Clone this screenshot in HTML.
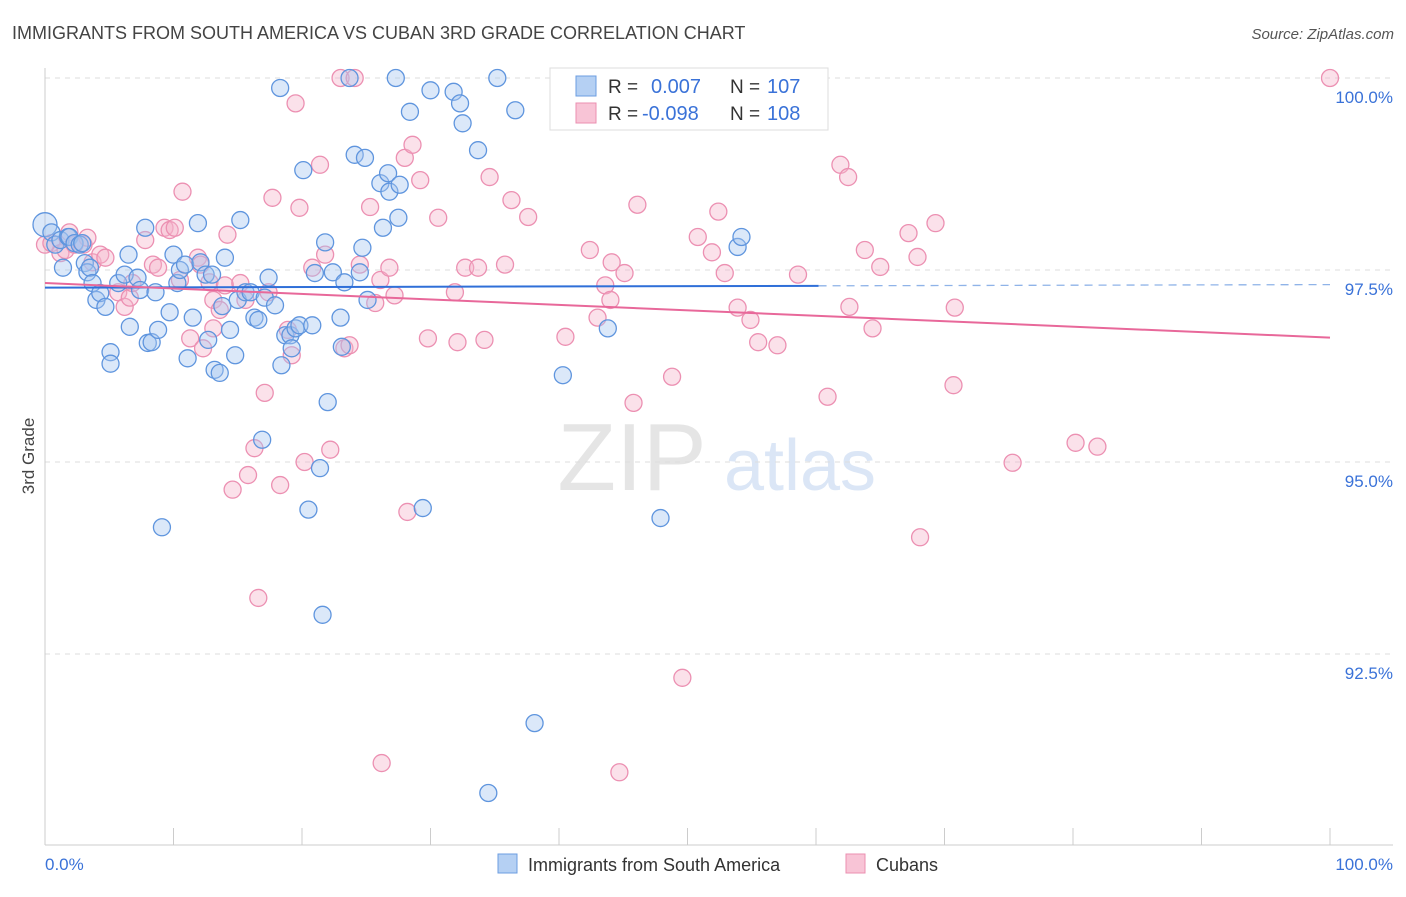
<!DOCTYPE html>
<html><head><meta charset="utf-8"><style>
body{margin:0;background:#fff;font-family:"Liberation Sans",sans-serif;}
svg text{font-family:"Liberation Sans",sans-serif;}
</style></head><body>
<svg id="chart" width="1406" height="892" xmlns="http://www.w3.org/2000/svg">
<text x="12" y="39" font-size="18" fill="#444">IMMIGRANTS FROM SOUTH AMERICA VS CUBAN 3RD GRADE CORRELATION CHART</text>
<text x="1394" y="39" font-size="15" fill="#555" font-style="italic" text-anchor="end">Source: ZipAtlas.com</text>
<text transform="translate(34,456) rotate(-90)" font-size="17" fill="#444" text-anchor="middle">3rd Grade</text>
<g opacity="0.5">
<text x="632" y="490" font-size="96" fill="#ccc" font-family="Liberation Serif" text-anchor="middle">ZIP</text>
<text x="800" y="490" font-size="72" fill="#b9cfee" text-anchor="middle">atlas</text>
</g>
<g id="grid"></g><g id="axes"></g><g id="pts"></g><g id="trend"></g>
<g>
<rect x="550" y="68" width="278" height="62" fill="#fff" stroke="#ddd"/>
<rect x="576" y="76" width="20" height="20" fill="#b5d0f3" stroke="#6c9ee0"/>
<text x="608" y="93" font-size="19" fill="#333">R =</text><text x="651" y="93" font-size="20" fill="#3a72d8">0.007</text>
<text x="730" y="93" font-size="19" fill="#333">N =</text><text x="767" y="93" font-size="20" fill="#3a72d8">107</text>
<rect x="576" y="103" width="20" height="20" fill="#f8c4d6" stroke="#eb8fb0"/>
<text x="608" y="120" font-size="19" fill="#333">R =</text><text x="642" y="120" font-size="20" fill="#3a72d8">-0.098</text>
<text x="730" y="120" font-size="19" fill="#333">N =</text><text x="767" y="120" font-size="20" fill="#3a72d8">108</text>
</g>
<g>
<rect x="498" y="854" width="19" height="19" fill="#b5d0f3" stroke="#6c9ee0"/>
<text x="528" y="871" font-size="18" fill="#333">Immigrants from South America</text>
<rect x="846" y="854" width="19" height="19" fill="#f8c4d6" stroke="#eb8fb0"/>
<text x="876" y="871" font-size="18" fill="#333">Cubans</text>
</g>
</svg>
<script>
const yTicks=[100,97.5,95,92.5];
const yTickLabels=["100.0%","97.5%","95.0%","92.5%"];
const xTickCount=10;
const blueX=[0,0.5,0.8,1.2,1.4,1.8,1.9,2.3,2.7,2.9,3.1,3.3,3.5,3.7,4.0,4.3,4.7,5.1,5.1,5.7,6.2,6.5,6.6,7.2,7.4,7.8,8.0,8.3,8.6,8.8,9.1,9.7,10.0,10.3,10.5,10.9,11.1,11.5,11.9,12.1,12.5,12.7,13.0,13.2,13.6,13.8,14.0,14.4,14.8,15.0,15.2,15.6,16.0,16.3,16.6,16.9,17.1,17.4,17.9,18.3,18.4,18.7,19.1,19.2,19.5,19.8,20.1,20.5,20.8,21.0,21.4,21.6,21.8,22.0,22.4,23.0,23.1,23.3,23.7,24.1,24.5,24.7,24.9,25.1,26.1,26.3,26.7,26.8,27.3,27.6,27.5,28.4,29.4,30.0,31.8,32.3,32.5,33.7,34.5,35.2,36.6,38.1,40.3,43.8,47.9,53.9,54.2];
const blueY=[98.09,97.99,97.83,97.89,97.53,97.93,97.93,97.85,97.83,97.85,97.59,97.47,97.53,97.33,97.11,97.20,97.02,96.43,96.28,97.33,97.44,97.70,96.76,97.40,97.24,98.05,96.55,96.56,97.21,96.72,94.15,96.95,97.70,97.33,97.50,97.57,96.35,96.88,98.11,97.60,97.44,96.59,97.44,96.20,96.16,97.03,97.66,96.72,96.39,97.11,98.15,97.21,97.21,96.88,96.85,95.29,97.14,97.40,97.04,99.87,96.26,96.65,96.65,96.48,96.74,96.78,98.80,94.38,96.78,97.46,94.92,93.01,97.86,95.78,97.47,96.88,96.50,97.34,100.0,99.00,97.47,97.79,98.96,97.11,98.63,98.05,98.76,98.52,100.0,98.61,98.18,99.56,94.40,99.84,99.82,99.67,99.41,99.06,90.69,100.0,99.58,91.60,96.13,96.74,94.27,97.80,97.93];
const pinkX=[0,0.5,1.2,1.6,1.9,2.3,3.0,3.3,3.7,4.3,4.7,5.7,6.2,6.6,6.8,7.8,8.4,8.8,9.3,9.7,10.1,10.5,10.7,11.3,11.9,12.1,12.3,12.8,13.1,13.1,13.6,14.0,14.2,14.6,15.2,15.6,15.8,16.3,16.6,17.1,17.4,17.7,18.3,18.9,19.2,19.5,19.8,20.2,20.8,21.4,21.8,22.2,23.0,23.3,23.7,24.1,24.5,25.3,25.7,26.1,26.2,26.8,27.2,28.0,28.2,28.6,29.2,29.8,30.6,31.9,32.1,32.7,33.7,34.2,34.6,35.8,36.3,37.6,40.5,42.4,43.0,43.6,44.0,44.1,44.7,45.1,45.8,46.1,48.8,49.6,50.8,51.9,52.4,52.9,53.9,54.9,55.5,57.0,58.6,60.9,61.9,62.5,62.6,63.8,64.4,65.0,67.2,67.9,68.1,69.3,70.7,70.8,75.3,80.2,81.9,100];
const pinkY=[97.83,97.85,97.72,97.76,97.99,97.83,97.83,97.92,97.60,97.70,97.66,97.21,97.02,97.14,97.33,97.89,97.57,97.53,98.05,98.02,98.05,97.37,98.52,96.61,97.66,97.57,96.48,97.34,97.11,96.74,96.98,97.30,97.96,94.64,97.33,97.11,94.83,95.18,93.23,95.90,97.21,98.44,94.70,96.72,96.39,99.67,98.31,95.00,97.53,98.87,97.70,95.16,100.0,96.48,96.52,100.0,97.57,98.32,97.07,97.37,91.08,97.53,97.17,98.96,94.35,99.13,98.67,96.61,98.18,97.21,96.56,97.53,97.53,96.59,98.71,97.57,98.41,98.19,96.63,97.76,96.88,97.30,97.11,97.60,90.96,97.46,95.77,98.35,96.11,92.19,97.93,97.73,98.26,97.46,97.01,96.85,96.56,96.52,97.44,95.85,98.87,98.71,97.02,97.76,96.74,97.54,97.98,97.67,94.02,98.11,96.00,97.01,94.99,95.25,95.20,100.0];
const blueTrend=[97.27,97.31];
const blueSolidEnd=60.2;
const pinkTrend=[97.33,96.62];

const NS="http://www.w3.org/2000/svg";
const X0=45,X1=1330,Y0=78,YPER=76.8;
function sx(v){return X0+(X1-X0)*v/100;}
function sy(v){return Y0+(100-v)*YPER;}
function mk(tag,attrs,parent){const e=document.createElementNS(NS,tag);for(const k in attrs)e.setAttribute(k,attrs[k]);parent.appendChild(e);return e;}
const grid=document.getElementById('grid'),axes=document.getElementById('axes'),pts=document.getElementById('pts'),tr=document.getElementById('trend');
yTicks.forEach((t,i)=>{
 const l=mk('line',{x1:45,x2:1393,y1:sy(t),y2:sy(t),stroke:'#ddd','stroke-dasharray':'5,5'},grid);
 
 
 const tx=mk('text',{x:1393,y:sy(t)+25,'font-size':17,fill:'#3a72d8','text-anchor':'end'},grid);
 tx.textContent=yTickLabels[i];
 
 
});
const ax=mk('line',{x1:45,x2:45,y1:68,y2:845,stroke:'#ccc'},axes);


const bx=mk('line',{x1:45,x2:1393,y1:845,y2:845,stroke:'#ccc'},axes);


for(let i=0;i<=xTickCount;i++){
 const t=mk('line',{x1:sx(i*10),x2:sx(i*10),y1:828,y2:845,stroke:'#ccc'},axes);
 
 
}
const xl0=mk('text',{x:45,y:870,'font-size':17,fill:'#3a72d8'},axes);xl0.textContent='0.0%';


const xl1=mk('text',{x:1393,y:870,'font-size':17,fill:'#3a72d8','text-anchor':'end'},axes);xl1.textContent='100.0%';


function series(xs,ys,fill,stroke,name){
 xs.forEach((x,i)=>{
  const c=mk('circle',{cx:sx(x),cy:sy(ys[i]),r:(i===0&&name==='blue-point')?12:8.5,fill:fill,'fill-opacity':0.4,stroke:stroke,'stroke-width':1.3},pts);
  
  
 });
}
series(pinkX,pinkY,'#f5b3ca','#ec90b2','pink-point');
series(blueX,blueY,'#a6c6ef','#5f95de','blue-point');
function lerp(a,x){return a[0]+(a[1]-a[0])*x/100;}
const b1=mk('line',{x1:sx(0),y1:sy(blueTrend[0]),x2:sx(blueSolidEnd),y2:sy(lerp(blueTrend,blueSolidEnd)),stroke:'#2f6fd8','stroke-width':2},tr);


const b2=mk('line',{x1:sx(blueSolidEnd),y1:sy(lerp(blueTrend,blueSolidEnd)),x2:sx(100),y2:sy(blueTrend[1]),stroke:'#8fb3e8','stroke-width':1.3,'stroke-dasharray':'8,6'},tr);


const p1=mk('line',{x1:sx(0),y1:sy(pinkTrend[0]),x2:sx(100),y2:sy(pinkTrend[1]),stroke:'#e8689a','stroke-width':2},tr);


</script>
</body></html>
